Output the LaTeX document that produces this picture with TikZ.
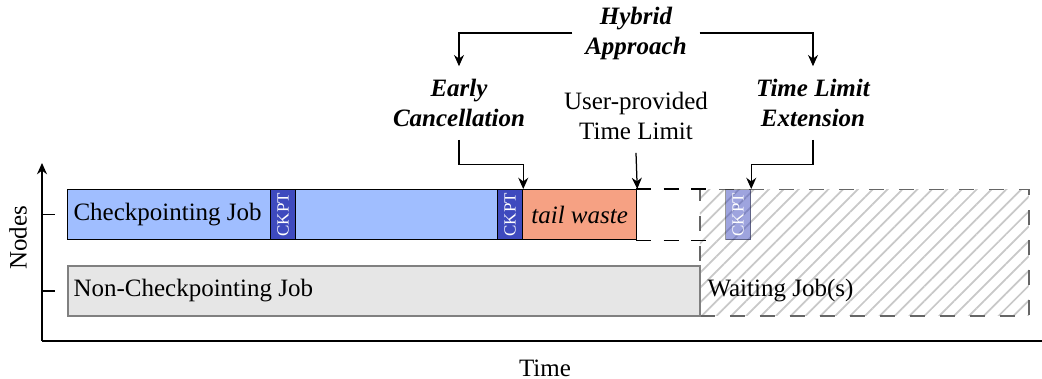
\documentclass[tikz,border=0pt]{standalone}
\usepackage{fontspec}
\setmainfont{Liberation Serif}
\usetikzlibrary{arrows.meta,patterns.meta}
\definecolor{cpblue}{RGB}{160,190,255}
\definecolor{ckptblue}{RGB}{62,74,190}
\definecolor{wasteorange}{RGB}{246,161,131}
\definecolor{jobgray}{RGB}{230,230,230}
\definecolor{hatchgray}{RGB}{200,200,200}

\begin{document}
\begin{tikzpicture}[x=0.4pt,y=-0.4pt,
  bar/.style={rectangle,draw,line width=0.5pt,inner sep=0pt,anchor=north west,minimum height=20pt},
  ckpt/.style={bar,fill=ckptblue,minimum width=10pt,text=white,font=\fontsize{6.8}{8}\selectfont},
  lbl/.style={inner sep=2.4pt,anchor=west},
  hint/.style={align=center,inner sep=5pt,font=\bfseries\itshape},
  arr/.style={-{Stealth[length=4.5pt,width=4pt]},line width=0.5pt}]
\useasboundingbox (0,0) rectangle (1042,379);

% waiting jobs and extension
\node[bar,draw=black!60,dash pattern=on 6pt off 6pt,pattern={Lines[angle=45,distance=4.2pt,line width=0.7pt]},pattern color=hatchgray,minimum width=131.6pt,minimum height=50.4pt] (wait) at (699,189) {};
\node[bar,draw=none,minimum width=30.4pt] (extra) at (636,189) {};
\draw[line width=0.5pt,dash pattern=on 6pt off 5pt] (extra.north west) -- (extra.north east);
\draw[line width=0.5pt,dash pattern=on 6pt off 5pt] (extra.south west) -- (extra.south east);
\node[ckpt,draw opacity=0.4,fill opacity=0.5,text opacity=1] (ckpt3) at (725,189) {\rotatebox{90}{CKPT}};

% jobs
\node[bar,draw=gray,fill=jobgray,line width=0.8pt,minimum width=252.8pt] (noncp) at (67,265) {};
\node[bar,fill=cpblue,minimum width=172pt] (cp) at (67,189) {};
\node[ckpt] (ckpt1) at (270,189) {\rotatebox{90}{CKPT}};
\node[ckpt] (ckpt2) at (497,189) {\rotatebox{90}{CKPT}};
\node[bar,fill=wasteorange,minimum width=45.6pt,font=\itshape] (tail) at (522,189) {tail waste};

\node[lbl] (cplabel) at (cp.west) {Checkpointing Job};
\node[lbl] (noncplabel) at (noncp.west) {Non-Checkpointing Job};
\node[lbl] (waitlabel) at (noncp.east) {Waiting Job(s)};

% axes
\coordinate (origin) at (42,341);
\coordinate (ytop) at (42,163);
\coordinate (xend) at (1042,341);
\draw[line width=0.6pt,-{Stealth[length=4.5pt,width=4pt]}] (origin) -- (ytop);
\draw[line width=0.6pt] (origin) -- (xend);
\draw[line width=0.6pt] (origin |- cp.west) -- ++(13,0);
\draw[line width=0.6pt] (origin |- noncp.west) -- ++(13,0);
\node[rotate=90] (ylabel) at (18,238) {Nodes};
\node (xlabel) at (545,368) {Time};

% annotations
\node[hint] (hybrid) at (636,33) {Hybrid\\Approach};
\node[hint] (early) at (459,103) {Early\\Cancellation};
\node[hint] (tlext) at (813,103) {Time Limit\\Extension};
\node[align=center,inner sep=5pt] (limit) at (636,116) {User-provided\\Time Limit};

\draw[arr] (hybrid.west) -| (early.north);
\draw[arr] (hybrid.east) -| (tlext.north);
\draw[arr] (early.south) -- ++(0,25) -| (ckpt2.north east);
\draw[arr] (limit.south) -- (tail.north east);
\draw[arr] (tlext.south) -- ++(0,25) -| (ckpt3.north east);
\end{tikzpicture}
\end{document}
